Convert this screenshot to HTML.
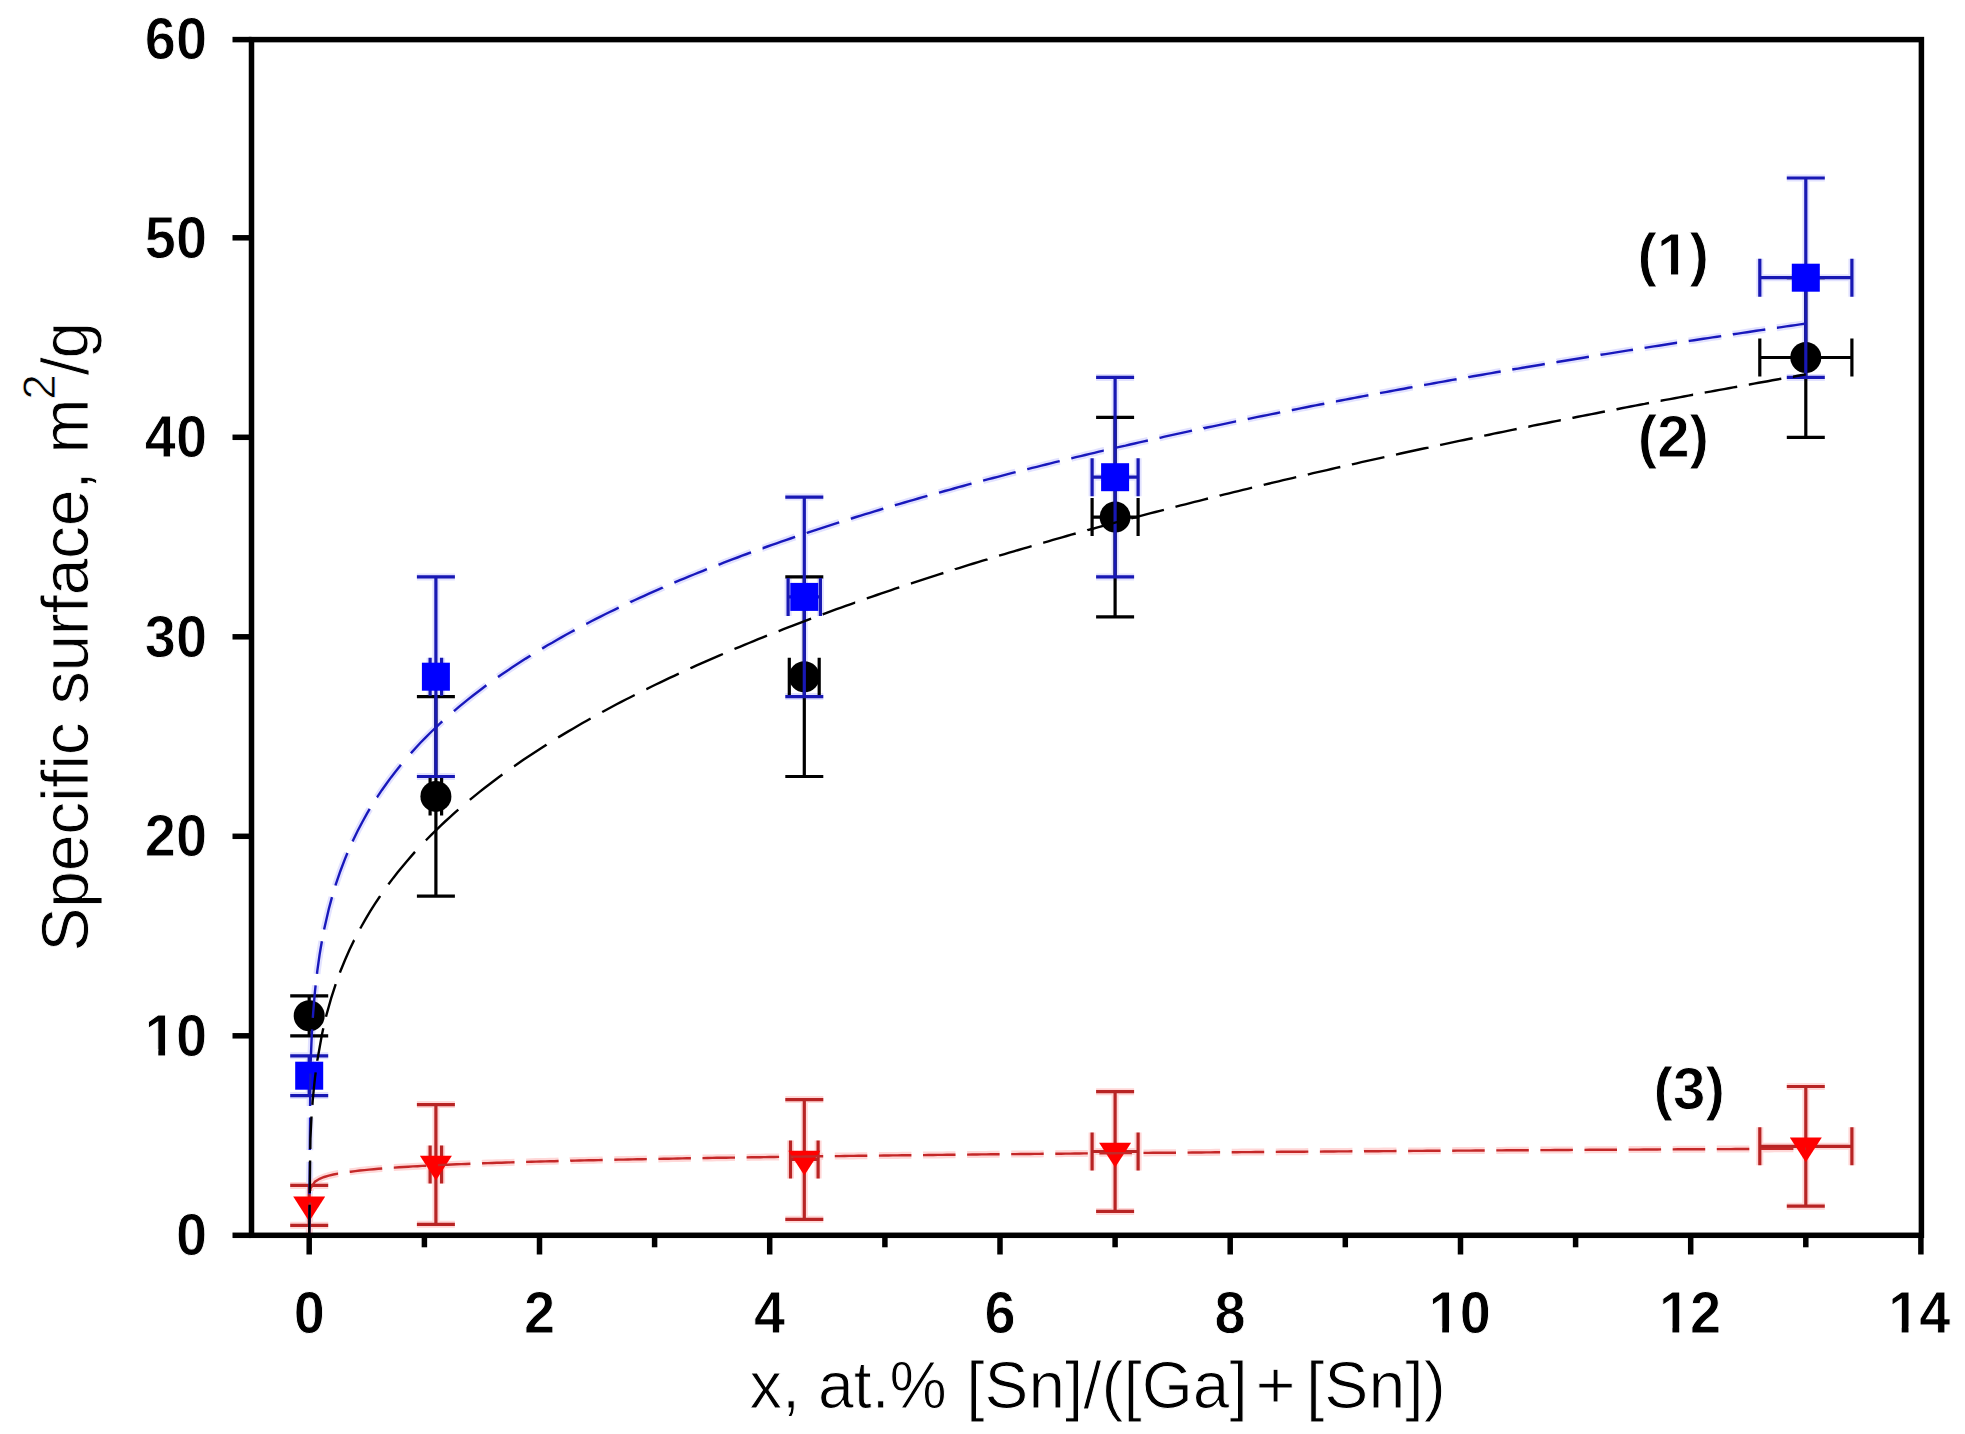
<!DOCTYPE html>
<html><head><meta charset="utf-8"><title>Specific surface vs x</title>
<style>html,body{margin:0;padding:0;background:#fff;overflow:hidden}svg{display:block}</style>
</head><body>
<svg width="1965" height="1434" viewBox="0 0 1965 1434"><g stroke="#e2e2ff" stroke-width="7" fill="none"><path d="M309.2 1055.8V1095.6 M290.2 1055.8H328.2 M290.2 1095.6H328.2" /><path d="M435.9 576.9V776.5 M416.9 576.9H454.9 M416.9 776.5H454.9" /><path d="M430.1 676.7H441.6 M430.1 657.7V695.7 M441.6 657.7V695.7" /><path d="M804.3 497.1V696.6 M785.3 497.1H823.3 M785.3 696.6H823.3" /><path d="M788.1 596.9H820.4 M788.1 577.9V615.9 M820.4 577.9V615.9" /><path d="M1115.1 377.4V576.9 M1096.1 377.4H1134.1 M1096.1 576.9H1134.1" /><path d="M1092.1 477.2H1138.1 M1092.1 458.2V496.2 M1138.1 458.2V496.2" /><path d="M1805.8 178V377.4 M1786.8 178H1824.8 M1786.8 377.4H1824.8" /><path d="M1759.8 277.7H1851.9 M1759.8 258.7V296.7 M1851.9 258.7V296.7" /></g>
<g stroke="#ffd8d8" stroke-width="7" fill="none"><path d="M309.2 1185.4V1225.3 M290.2 1185.4H328.2 M290.2 1225.3H328.2" /><path d="M435.9 1104.6V1224.3 M416.9 1104.6H454.9 M416.9 1224.3H454.9" /><path d="M430.1 1164.5H441.6 M430.1 1145.5V1183.5 M441.6 1145.5V1183.5" /><path d="M804.3 1099.6V1219.3 M785.3 1099.6H823.3 M785.3 1219.3H823.3" /><path d="M790.5 1159.5H818.1 M790.5 1140.5V1178.5 M818.1 1140.5V1178.5" /><path d="M1115.1 1091.7V1211.4 M1096.1 1091.7H1134.1 M1096.1 1211.4H1134.1" /><path d="M1092.1 1151.5H1138.1 M1092.1 1132.5V1170.5 M1138.1 1132.5V1170.5" /><path d="M1805.8 1086.5V1206.2 M1786.8 1086.5H1824.8 M1786.8 1206.2H1824.8" /><path d="M1759.8 1146.3H1851.9 M1759.8 1127.3V1165.3 M1851.9 1127.3V1165.3" /></g>
<path d="M309.2 1235.3L309.5 1205.8M309.5 1194.2L309.8 1161.8M309.8 1150.1L310.1 1117.6M310.1 1106.0L310.4 1073.5M310.7 1061.9L311.6 1038.7L312.1 1029.4M312.8 1017.8L313.9 1003.7L315.0 991.1L315.6 985.3M317.0 973.8L317.3 970.8L318.5 962.3L319.6 954.6L320.8 947.5L321.9 941.2M324.1 929.6L324.2 929.1L328.8 909.0L332.0 897.1M335.5 885.5L335.7 884.7L340.3 871.2L344.9 859.1L347.4 853.0M352.5 841.4L353.0 840.5L357.6 831.0L362.2 822.2L366.8 813.9L369.7 808.9M377.0 797.3L377.2 797.1L381.8 790.2L386.4 783.7L391.0 777.4L395.6 771.5L400.2 765.7L400.9 764.8M410.8 753.2L411.7 752.3L416.3 747.2L420.9 742.3L425.5 737.6L430.1 733.0L434.7 728.5L439.3 724.2L442.3 721.4M453.9 711.1L454.3 710.8L458.9 706.9L463.5 703.1L468.1 699.4L472.7 695.7L477.3 692.2L481.9 688.7L486.4 685.3M498.0 677.0L498.0 677.0L502.7 673.8L507.3 670.7L511.9 667.6L516.5 664.6L521.1 661.6L525.7 658.6L530.3 655.8L530.5 655.6M542.1 648.5L542.9 648.1L547.5 645.3L552.2 642.7L556.8 640.0L561.4 637.4L566.0 634.8L570.6 632.3L574.6 630.1M586.2 623.9L586.7 623.7L591.3 621.3L595.9 618.9L600.5 616.6L605.1 614.3L609.7 612.0L614.3 609.8L618.7 607.7M630.3 602.2L630.4 602.1L635.0 600.0L639.6 597.9L644.2 595.8L648.9 593.7L653.5 591.6L658.1 589.6L662.7 587.6L662.8 587.5M674.4 582.6L675.3 582.2L679.9 580.2L684.5 578.3L689.1 576.4L693.8 574.5L698.4 572.7L703.0 570.8L706.9 569.2M718.5 564.7L719.1 564.5L723.7 562.7L728.3 560.9L732.9 559.2L737.5 557.5L742.1 555.7L746.7 554.0L751.0 552.4M762.6 548.2L762.8 548.2L767.4 546.5L772.0 544.9L776.6 543.3L781.2 541.7L785.8 540.1L790.5 538.5L795.1 536.9L795.1 536.9M806.7 533.0L807.7 532.6L812.3 531.1L816.9 529.6L821.5 528.1L826.1 526.6L830.7 525.1L835.3 523.6L839.2 522.4M850.8 518.7L851.5 518.5L856.1 517.0L860.7 515.6L865.3 514.2L869.9 512.8L874.5 511.4L879.1 510.0L883.3 508.7M894.9 505.3L895.2 505.2L899.8 503.8L904.4 502.5L909.0 501.1L913.6 499.8L918.2 498.5L922.8 497.2L927.4 495.9M939.0 492.6L940.1 492.3L944.7 491.0L949.3 489.8L953.9 488.5L958.5 487.2L963.1 486.0L967.7 484.7L971.5 483.7M983.1 480.6L983.9 480.4L988.5 479.2L993.1 478.0L997.7 476.8L1002.3 475.6L1006.9 474.4L1011.5 473.2L1015.6 472.1M1027.2 469.2L1027.6 469.1L1032.2 467.9L1036.8 466.8L1041.4 465.6L1046.0 464.5L1050.6 463.3L1055.2 462.2L1059.7 461.1M1071.3 458.3L1071.3 458.3L1075.9 457.2L1080.6 456.1L1085.2 455.0L1089.8 453.9L1094.4 452.8L1099.0 451.7L1103.6 450.6L1103.8 450.6M1115.4 447.9L1116.2 447.7L1120.8 446.6L1125.5 445.6L1130.1 444.5L1134.7 443.5L1139.3 442.4L1143.9 441.4L1147.9 440.5M1159.5 437.9L1160.0 437.8L1164.6 436.7L1169.2 435.7L1173.8 434.7L1178.4 433.7L1183.0 432.7L1187.6 431.7L1192.0 430.7M1203.6 428.3L1203.7 428.2L1208.3 427.3L1212.9 426.3L1217.5 425.3L1222.2 424.3L1226.8 423.4L1231.4 422.4L1236.0 421.4L1236.1 421.4M1247.7 419.0L1248.6 418.8L1253.2 417.9L1257.8 416.9L1262.4 416.0L1267.0 415.1L1271.7 414.1L1276.3 413.2L1280.2 412.4M1291.8 410.1L1292.4 410.0L1297.0 409.1L1301.6 408.1L1306.2 407.2L1310.8 406.3L1315.4 405.4L1320.0 404.5L1324.3 403.7M1335.9 401.4L1336.1 401.4L1340.7 400.5L1345.3 399.6L1349.9 398.8L1354.5 397.9L1359.1 397.0L1363.7 396.1L1368.4 395.3L1368.4 395.3M1380.0 393.1L1381.0 392.9L1385.6 392.1L1390.2 391.2L1394.8 390.4L1399.4 389.5L1404.0 388.7L1408.6 387.8L1412.5 387.1M1424.1 385.0L1424.8 384.9L1429.4 384.1L1434.0 383.2L1438.6 382.4L1443.2 381.6L1447.8 380.8L1452.4 379.9L1456.6 379.2M1468.2 377.2L1468.5 377.1L1473.1 376.3L1477.7 375.5L1482.3 374.7L1486.9 373.9L1491.5 373.1L1496.1 372.3L1500.7 371.5M1512.3 369.5L1513.4 369.3L1518.0 368.6L1522.6 367.8L1527.2 367.0L1531.8 366.2L1536.4 365.5L1541.0 364.7L1544.8 364.0M1556.4 362.1L1557.2 362.0L1561.8 361.2L1566.4 360.5L1571.0 359.7L1575.6 359.0L1580.2 358.2L1584.8 357.5L1588.9 356.8M1600.5 354.9L1600.9 354.8L1605.5 354.1L1610.1 353.4L1614.7 352.6L1619.3 351.9L1623.9 351.1L1628.5 350.4L1633.0 349.7M1644.6 347.9L1644.6 347.9L1649.2 347.1L1653.9 346.4L1658.5 345.7L1663.1 345.0L1667.7 344.3L1672.3 343.5L1676.9 342.8L1677.1 342.8M1688.7 341.0L1689.5 340.9L1694.1 340.2L1698.7 339.5L1703.4 338.8L1708.0 338.1L1712.6 337.4L1717.2 336.7L1721.2 336.1M1732.8 334.3L1733.3 334.2L1737.9 333.6L1742.5 332.9L1747.1 332.2L1751.7 331.5L1756.3 330.8L1760.9 330.1L1765.3 329.5M1776.9 327.8L1777.0 327.8L1781.6 327.1L1786.2 326.4L1790.8 325.7L1795.4 325.1L1800.1 324.4L1804.7 323.7L1805.8 323.6" fill="none" stroke="#e2e2ff" stroke-width="7"/>
<path d="M309.3 1235.0L310.1 1202.5M310.3 1190.9L310.4 1188.5L315.0 1181.6L319.6 1178.8L324.2 1177.0L328.8 1175.6L333.4 1174.5L338.0 1173.6L338.1 1173.6M349.7 1171.8L350.7 1171.7L355.3 1171.1L359.9 1170.5L364.5 1170.1L369.1 1169.6L373.7 1169.2L378.3 1168.8L382.2 1168.5M393.8 1167.6L394.4 1167.6L399.0 1167.3L403.6 1167.0L408.3 1166.7L412.9 1166.4L417.5 1166.2L422.1 1165.9L426.3 1165.7M437.9 1165.1L438.2 1165.1L442.8 1164.9L447.4 1164.7L452.0 1164.5L456.6 1164.3L461.2 1164.1L465.8 1164.0L470.4 1163.8M482.0 1163.4L483.1 1163.3L487.7 1163.1L492.3 1163.0L496.9 1162.8L501.5 1162.7L506.1 1162.5L510.7 1162.4L514.5 1162.3M526.1 1161.9L526.8 1161.9L531.4 1161.8L536.0 1161.6L540.6 1161.5L545.2 1161.4L549.9 1161.3L554.5 1161.2L558.6 1161.0M570.2 1160.8L570.6 1160.7L575.2 1160.6L579.8 1160.5L584.4 1160.4L589.0 1160.3L593.6 1160.2L598.2 1160.1L602.7 1160.0M614.3 1159.7L614.3 1159.7L618.9 1159.6L623.5 1159.6L628.1 1159.5L632.7 1159.4L637.3 1159.3L641.9 1159.2L646.6 1159.1L646.8 1159.1M658.4 1158.9L659.2 1158.9L663.8 1158.8L668.4 1158.7L673.0 1158.6L677.6 1158.5L682.2 1158.4L686.8 1158.3L690.9 1158.3M702.5 1158.1L703.0 1158.1L707.6 1158.0L712.2 1157.9L716.8 1157.8L721.4 1157.8L726.0 1157.7L730.6 1157.6L735.0 1157.6M746.6 1157.4L746.7 1157.4L751.3 1157.3L755.9 1157.2L760.5 1157.2L765.1 1157.1L769.7 1157.0L774.3 1157.0L778.9 1156.9L779.1 1156.9M790.7 1156.7L791.6 1156.7L796.2 1156.6L800.8 1156.6L805.4 1156.5L810.0 1156.5L814.6 1156.4L819.2 1156.3L823.2 1156.3M834.8 1156.1L835.3 1156.1L840.0 1156.1L844.6 1156.0L849.2 1155.9L853.8 1155.9L858.4 1155.8L863.0 1155.8L867.3 1155.7M878.9 1155.6L879.1 1155.6L883.7 1155.5L888.3 1155.5L892.9 1155.4L897.5 1155.4L902.1 1155.3L906.7 1155.3L911.3 1155.2L911.4 1155.2M923.0 1155.1L924.0 1155.1L928.6 1155.0L933.2 1155.0L937.8 1154.9L942.4 1154.9L947.0 1154.8L951.6 1154.8L955.5 1154.7M967.1 1154.6L967.7 1154.6L972.3 1154.5L976.9 1154.5L981.6 1154.4L986.2 1154.4L990.8 1154.3L995.4 1154.3L999.6 1154.3M1011.2 1154.1L1011.5 1154.1L1016.1 1154.1L1020.7 1154.0L1025.3 1154.0L1029.9 1154.0L1034.5 1153.9L1039.1 1153.9L1043.7 1153.8M1055.3 1153.7L1056.4 1153.7L1061.0 1153.7L1065.6 1153.6L1070.2 1153.6L1074.8 1153.5L1079.4 1153.5L1084.0 1153.4L1087.8 1153.4M1099.4 1153.3L1100.1 1153.3L1104.7 1153.3L1109.3 1153.2L1113.9 1153.2L1118.5 1153.1L1123.1 1153.1L1127.8 1153.1L1131.9 1153.0M1143.5 1152.9L1143.9 1152.9L1148.5 1152.9L1153.1 1152.8L1157.7 1152.8L1162.3 1152.8L1166.9 1152.7L1171.5 1152.7L1176.0 1152.7M1187.6 1152.6L1187.6 1152.6L1192.2 1152.5L1196.8 1152.5L1201.4 1152.5L1206.0 1152.4L1210.6 1152.4L1215.2 1152.3L1219.8 1152.3L1220.1 1152.3M1231.7 1152.2L1232.5 1152.2L1237.1 1152.2L1241.7 1152.1L1246.3 1152.1L1250.9 1152.1L1255.5 1152.0L1260.1 1152.0L1264.2 1152.0M1275.8 1151.9L1276.3 1151.9L1280.9 1151.8L1285.5 1151.8L1290.1 1151.8L1294.7 1151.7L1299.3 1151.7L1303.9 1151.7L1308.3 1151.6M1319.9 1151.6L1320.0 1151.6L1324.6 1151.5L1329.2 1151.5L1333.8 1151.5L1338.4 1151.4L1343.0 1151.4L1347.6 1151.4L1352.2 1151.3L1352.4 1151.3M1364.0 1151.3L1364.9 1151.2L1369.5 1151.2L1374.1 1151.2L1378.7 1151.2L1383.3 1151.1L1387.9 1151.1L1392.5 1151.1L1396.5 1151.0M1408.1 1151.0L1408.6 1151.0L1413.3 1150.9L1417.9 1150.9L1422.5 1150.9L1427.1 1150.8L1431.7 1150.8L1436.3 1150.8L1440.6 1150.7M1452.2 1150.7L1452.4 1150.7L1457.0 1150.6L1461.6 1150.6L1466.2 1150.6L1470.8 1150.6L1475.4 1150.5L1480.0 1150.5L1484.6 1150.5L1484.7 1150.5M1496.3 1150.4L1497.3 1150.4L1501.9 1150.4L1506.5 1150.3L1511.1 1150.3L1515.7 1150.3L1520.3 1150.2L1524.9 1150.2L1528.8 1150.2M1540.4 1150.1L1541.0 1150.1L1545.6 1150.1L1550.2 1150.1L1554.8 1150.0L1559.5 1150.0L1564.1 1150.0L1568.7 1150.0L1572.9 1149.9M1584.5 1149.9L1584.8 1149.9L1589.4 1149.8L1594.0 1149.8L1598.6 1149.8L1603.2 1149.8L1607.8 1149.7L1612.4 1149.7L1617.0 1149.7M1628.6 1149.6L1629.7 1149.6L1634.3 1149.6L1638.9 1149.6L1643.5 1149.5L1648.1 1149.5L1652.7 1149.5L1657.3 1149.5L1661.1 1149.4M1672.7 1149.4L1673.4 1149.4L1678.0 1149.3L1682.6 1149.3L1687.2 1149.3L1691.8 1149.3L1696.4 1149.2L1701.1 1149.2L1705.2 1149.2M1716.8 1149.1L1717.2 1149.1L1721.8 1149.1L1726.4 1149.1L1731.0 1149.1L1735.6 1149.0L1740.2 1149.0L1744.8 1149.0L1749.3 1149.0M1760.9 1148.9L1760.9 1148.9L1765.5 1148.9L1770.1 1148.9L1774.7 1148.8L1779.3 1148.8L1783.9 1148.8L1788.5 1148.8L1793.1 1148.7L1793.4 1148.7M1805.0 1148.7L1805.8 1148.7" fill="none" stroke="#ffd8d8" stroke-width="7"/>
<g stroke="#000000" stroke-width="3.2" fill="none"><path d="M309.2 995.9V1035.8 M290.2 995.9H328.2 M290.2 1035.8H328.2" /><path d="M435.9 696.6V896.1 M416.9 696.6H454.9 M416.9 896.1H454.9" /><path d="M430.1 796.4H441.6 M430.1 777.4V815.4 M441.6 777.4V815.4" /><path d="M804.3 576.9V776.5 M785.3 576.9H823.3 M785.3 776.5H823.3" /><path d="M789.3 676.7H819.2 M789.3 657.7V695.7 M819.2 657.7V695.7" /><path d="M1115.1 417.4V616.9 M1096.1 417.4H1134.1 M1096.1 616.9H1134.1" /><path d="M1092.1 517.1H1138.1 M1092.1 498.1V536.1 M1138.1 498.1V536.1" /><path d="M1805.8 277.7V437.3 M1786.8 277.7H1824.8 M1786.8 437.3H1824.8" /><path d="M1759.8 357.5H1851.9 M1759.8 338.5V376.5 M1851.9 338.5V376.5" /></g>
<g fill="#000000"><circle cx="309.2" cy="1015.8" r="15.5"/><circle cx="435.9" cy="796.4" r="15.5"/><circle cx="804.3" cy="676.7" r="15.5"/><circle cx="1115.1" cy="517.1" r="15.5"/><circle cx="1805.8" cy="357.5" r="15.5"/></g>
<g stroke="#1818b4" stroke-width="3.2" fill="none"><path d="M309.2 1055.8V1095.6 M290.2 1055.8H328.2 M290.2 1095.6H328.2" /><path d="M435.9 576.9V776.5 M416.9 576.9H454.9 M416.9 776.5H454.9" /><path d="M430.1 676.7H441.6 M430.1 657.7V695.7 M441.6 657.7V695.7" /><path d="M804.3 497.1V696.6 M785.3 497.1H823.3 M785.3 696.6H823.3" /><path d="M788.1 596.9H820.4 M788.1 577.9V615.9 M820.4 577.9V615.9" /><path d="M1115.1 377.4V576.9 M1096.1 377.4H1134.1 M1096.1 576.9H1134.1" /><path d="M1092.1 477.2H1138.1 M1092.1 458.2V496.2 M1138.1 458.2V496.2" /><path d="M1805.8 178V377.4 M1786.8 178H1824.8 M1786.8 377.4H1824.8" /><path d="M1759.8 277.7H1851.9 M1759.8 258.7V296.7 M1851.9 258.7V296.7" /></g>
<g fill="#0000ff"><rect x="295.2" y="1061.7" width="28" height="28"/><rect x="421.9" y="662.7" width="28" height="28"/><rect x="790.3" y="582.9" width="28" height="28"/><rect x="1101.1" y="463.2" width="28" height="28"/><rect x="1791.8" y="263.7" width="28" height="28"/></g>
<g stroke="#b82424" stroke-width="3.2" fill="none"><path d="M309.2 1185.4V1225.3 M290.2 1185.4H328.2 M290.2 1225.3H328.2" /><path d="M435.9 1104.6V1224.3 M416.9 1104.6H454.9 M416.9 1224.3H454.9" /><path d="M430.1 1164.5H441.6 M430.1 1145.5V1183.5 M441.6 1145.5V1183.5" /><path d="M804.3 1099.6V1219.3 M785.3 1099.6H823.3 M785.3 1219.3H823.3" /><path d="M790.5 1159.5H818.1 M790.5 1140.5V1178.5 M818.1 1140.5V1178.5" /><path d="M1115.1 1091.7V1211.4 M1096.1 1091.7H1134.1 M1096.1 1211.4H1134.1" /><path d="M1092.1 1151.5H1138.1 M1092.1 1132.5V1170.5 M1138.1 1132.5V1170.5" /><path d="M1805.8 1086.5V1206.2 M1786.8 1086.5H1824.8 M1786.8 1206.2H1824.8" /><path d="M1759.8 1146.3H1851.9 M1759.8 1127.3V1165.3 M1851.9 1127.3V1165.3" /></g>
<g fill="#ff0000"><path d="M293.2 1196.6L325.2 1196.6L309.2 1221.4Z"/><path d="M419.9 1155.7L451.9 1155.7L435.9 1180.5Z"/><path d="M788.3 1150.7L820.3 1150.7L804.3 1175.5Z"/><path d="M1099.1 1142.7L1131.1 1142.7L1115.1 1167.5Z"/><path d="M1789.8 1137.5L1821.8 1137.5L1805.8 1162.3Z"/></g>
<path d="M309.3 1235.0L310.1 1202.5M310.3 1190.9L310.4 1188.5L315.0 1181.6L319.6 1178.8L324.2 1177.0L328.8 1175.6L333.4 1174.5L338.0 1173.6L338.1 1173.6M349.7 1171.8L350.7 1171.7L355.3 1171.1L359.9 1170.5L364.5 1170.1L369.1 1169.6L373.7 1169.2L378.3 1168.8L382.2 1168.5M393.8 1167.6L394.4 1167.6L399.0 1167.3L403.6 1167.0L408.3 1166.7L412.9 1166.4L417.5 1166.2L422.1 1165.9L426.3 1165.7M437.9 1165.1L438.2 1165.1L442.8 1164.9L447.4 1164.7L452.0 1164.5L456.6 1164.3L461.2 1164.1L465.8 1164.0L470.4 1163.8M482.0 1163.4L483.1 1163.3L487.7 1163.1L492.3 1163.0L496.9 1162.8L501.5 1162.7L506.1 1162.5L510.7 1162.4L514.5 1162.3M526.1 1161.9L526.8 1161.9L531.4 1161.8L536.0 1161.6L540.6 1161.5L545.2 1161.4L549.9 1161.3L554.5 1161.2L558.6 1161.0M570.2 1160.8L570.6 1160.7L575.2 1160.6L579.8 1160.5L584.4 1160.4L589.0 1160.3L593.6 1160.2L598.2 1160.1L602.7 1160.0M614.3 1159.7L614.3 1159.7L618.9 1159.6L623.5 1159.6L628.1 1159.5L632.7 1159.4L637.3 1159.3L641.9 1159.2L646.6 1159.1L646.8 1159.1M658.4 1158.9L659.2 1158.9L663.8 1158.8L668.4 1158.7L673.0 1158.6L677.6 1158.5L682.2 1158.4L686.8 1158.3L690.9 1158.3M702.5 1158.1L703.0 1158.1L707.6 1158.0L712.2 1157.9L716.8 1157.8L721.4 1157.8L726.0 1157.7L730.6 1157.6L735.0 1157.6M746.6 1157.4L746.7 1157.4L751.3 1157.3L755.9 1157.2L760.5 1157.2L765.1 1157.1L769.7 1157.0L774.3 1157.0L778.9 1156.9L779.1 1156.9M790.7 1156.7L791.6 1156.7L796.2 1156.6L800.8 1156.6L805.4 1156.5L810.0 1156.5L814.6 1156.4L819.2 1156.3L823.2 1156.3M834.8 1156.1L835.3 1156.1L840.0 1156.1L844.6 1156.0L849.2 1155.9L853.8 1155.9L858.4 1155.8L863.0 1155.8L867.3 1155.7M878.9 1155.6L879.1 1155.6L883.7 1155.5L888.3 1155.5L892.9 1155.4L897.5 1155.4L902.1 1155.3L906.7 1155.3L911.3 1155.2L911.4 1155.2M923.0 1155.1L924.0 1155.1L928.6 1155.0L933.2 1155.0L937.8 1154.9L942.4 1154.9L947.0 1154.8L951.6 1154.8L955.5 1154.7M967.1 1154.6L967.7 1154.6L972.3 1154.5L976.9 1154.5L981.6 1154.4L986.2 1154.4L990.8 1154.3L995.4 1154.3L999.6 1154.3M1011.2 1154.1L1011.5 1154.1L1016.1 1154.1L1020.7 1154.0L1025.3 1154.0L1029.9 1154.0L1034.5 1153.9L1039.1 1153.9L1043.7 1153.8M1055.3 1153.7L1056.4 1153.7L1061.0 1153.7L1065.6 1153.6L1070.2 1153.6L1074.8 1153.5L1079.4 1153.5L1084.0 1153.4L1087.8 1153.4M1099.4 1153.3L1100.1 1153.3L1104.7 1153.3L1109.3 1153.2L1113.9 1153.2L1118.5 1153.1L1123.1 1153.1L1127.8 1153.1L1131.9 1153.0M1143.5 1152.9L1143.9 1152.9L1148.5 1152.9L1153.1 1152.8L1157.7 1152.8L1162.3 1152.8L1166.9 1152.7L1171.5 1152.7L1176.0 1152.7M1187.6 1152.6L1187.6 1152.6L1192.2 1152.5L1196.8 1152.5L1201.4 1152.5L1206.0 1152.4L1210.6 1152.4L1215.2 1152.3L1219.8 1152.3L1220.1 1152.3M1231.7 1152.2L1232.5 1152.2L1237.1 1152.2L1241.7 1152.1L1246.3 1152.1L1250.9 1152.1L1255.5 1152.0L1260.1 1152.0L1264.2 1152.0M1275.8 1151.9L1276.3 1151.9L1280.9 1151.8L1285.5 1151.8L1290.1 1151.8L1294.7 1151.7L1299.3 1151.7L1303.9 1151.7L1308.3 1151.6M1319.9 1151.6L1320.0 1151.6L1324.6 1151.5L1329.2 1151.5L1333.8 1151.5L1338.4 1151.4L1343.0 1151.4L1347.6 1151.4L1352.2 1151.3L1352.4 1151.3M1364.0 1151.3L1364.9 1151.2L1369.5 1151.2L1374.1 1151.2L1378.7 1151.2L1383.3 1151.1L1387.9 1151.1L1392.5 1151.1L1396.5 1151.0M1408.1 1151.0L1408.6 1151.0L1413.3 1150.9L1417.9 1150.9L1422.5 1150.9L1427.1 1150.8L1431.7 1150.8L1436.3 1150.8L1440.6 1150.7M1452.2 1150.7L1452.4 1150.7L1457.0 1150.6L1461.6 1150.6L1466.2 1150.6L1470.8 1150.6L1475.4 1150.5L1480.0 1150.5L1484.6 1150.5L1484.7 1150.5M1496.3 1150.4L1497.3 1150.4L1501.9 1150.4L1506.5 1150.3L1511.1 1150.3L1515.7 1150.3L1520.3 1150.2L1524.9 1150.2L1528.8 1150.2M1540.4 1150.1L1541.0 1150.1L1545.6 1150.1L1550.2 1150.1L1554.8 1150.0L1559.5 1150.0L1564.1 1150.0L1568.7 1150.0L1572.9 1149.9M1584.5 1149.9L1584.8 1149.9L1589.4 1149.8L1594.0 1149.8L1598.6 1149.8L1603.2 1149.8L1607.8 1149.7L1612.4 1149.7L1617.0 1149.7M1628.6 1149.6L1629.7 1149.6L1634.3 1149.6L1638.9 1149.6L1643.5 1149.5L1648.1 1149.5L1652.7 1149.5L1657.3 1149.5L1661.1 1149.4M1672.7 1149.4L1673.4 1149.4L1678.0 1149.3L1682.6 1149.3L1687.2 1149.3L1691.8 1149.3L1696.4 1149.2L1701.1 1149.2L1705.2 1149.2M1716.8 1149.1L1717.2 1149.1L1721.8 1149.1L1726.4 1149.1L1731.0 1149.1L1735.6 1149.0L1740.2 1149.0L1744.8 1149.0L1749.3 1149.0M1760.9 1148.9L1760.9 1148.9L1765.5 1148.9L1770.1 1148.9L1774.7 1148.8L1779.3 1148.8L1783.9 1148.8L1788.5 1148.8L1793.1 1148.7L1793.4 1148.7M1805.0 1148.7L1805.8 1148.7" fill="none" stroke="#c42828" stroke-width="2.4"/>
<path d="M309.2 1235.3L309.5 1205.8M309.5 1194.2L309.8 1161.8M309.8 1150.1L310.1 1117.6M310.1 1106.0L310.4 1073.5M310.7 1061.9L311.6 1038.7L312.1 1029.4M312.8 1017.8L313.9 1003.7L315.0 991.1L315.6 985.3M317.0 973.8L317.3 970.8L318.5 962.3L319.6 954.6L320.8 947.5L321.9 941.2M324.1 929.6L324.2 929.1L328.8 909.0L332.0 897.1M335.5 885.5L335.7 884.7L340.3 871.2L344.9 859.1L347.4 853.0M352.5 841.4L353.0 840.5L357.6 831.0L362.2 822.2L366.8 813.9L369.7 808.9M377.0 797.3L377.2 797.1L381.8 790.2L386.4 783.7L391.0 777.4L395.6 771.5L400.2 765.7L400.9 764.8M410.8 753.2L411.7 752.3L416.3 747.2L420.9 742.3L425.5 737.6L430.1 733.0L434.7 728.5L439.3 724.2L442.3 721.4M453.9 711.1L454.3 710.8L458.9 706.9L463.5 703.1L468.1 699.4L472.7 695.7L477.3 692.2L481.9 688.7L486.4 685.3M498.0 677.0L498.0 677.0L502.7 673.8L507.3 670.7L511.9 667.6L516.5 664.6L521.1 661.6L525.7 658.6L530.3 655.8L530.5 655.6M542.1 648.5L542.9 648.1L547.5 645.3L552.2 642.7L556.8 640.0L561.4 637.4L566.0 634.8L570.6 632.3L574.6 630.1M586.2 623.9L586.7 623.7L591.3 621.3L595.9 618.9L600.5 616.6L605.1 614.3L609.7 612.0L614.3 609.8L618.7 607.7M630.3 602.2L630.4 602.1L635.0 600.0L639.6 597.9L644.2 595.8L648.9 593.7L653.5 591.6L658.1 589.6L662.7 587.6L662.8 587.5M674.4 582.6L675.3 582.2L679.9 580.2L684.5 578.3L689.1 576.4L693.8 574.5L698.4 572.7L703.0 570.8L706.9 569.2M718.5 564.7L719.1 564.5L723.7 562.7L728.3 560.9L732.9 559.2L737.5 557.5L742.1 555.7L746.7 554.0L751.0 552.4M762.6 548.2L762.8 548.2L767.4 546.5L772.0 544.9L776.6 543.3L781.2 541.7L785.8 540.1L790.5 538.5L795.1 536.9L795.1 536.9M806.7 533.0L807.7 532.6L812.3 531.1L816.9 529.6L821.5 528.1L826.1 526.6L830.7 525.1L835.3 523.6L839.2 522.4M850.8 518.7L851.5 518.5L856.1 517.0L860.7 515.6L865.3 514.2L869.9 512.8L874.5 511.4L879.1 510.0L883.3 508.7M894.9 505.3L895.2 505.2L899.8 503.8L904.4 502.5L909.0 501.1L913.6 499.8L918.2 498.5L922.8 497.2L927.4 495.9M939.0 492.6L940.1 492.3L944.7 491.0L949.3 489.8L953.9 488.5L958.5 487.2L963.1 486.0L967.7 484.7L971.5 483.7M983.1 480.6L983.9 480.4L988.5 479.2L993.1 478.0L997.7 476.8L1002.3 475.6L1006.9 474.4L1011.5 473.2L1015.6 472.1M1027.2 469.2L1027.6 469.1L1032.2 467.9L1036.8 466.8L1041.4 465.6L1046.0 464.5L1050.6 463.3L1055.2 462.2L1059.7 461.1M1071.3 458.3L1071.3 458.3L1075.9 457.2L1080.6 456.1L1085.2 455.0L1089.8 453.9L1094.4 452.8L1099.0 451.7L1103.6 450.6L1103.8 450.6M1115.4 447.9L1116.2 447.7L1120.8 446.6L1125.5 445.6L1130.1 444.5L1134.7 443.5L1139.3 442.4L1143.9 441.4L1147.9 440.5M1159.5 437.9L1160.0 437.8L1164.6 436.7L1169.2 435.7L1173.8 434.7L1178.4 433.7L1183.0 432.7L1187.6 431.7L1192.0 430.7M1203.6 428.3L1203.7 428.2L1208.3 427.3L1212.9 426.3L1217.5 425.3L1222.2 424.3L1226.8 423.4L1231.4 422.4L1236.0 421.4L1236.1 421.4M1247.7 419.0L1248.6 418.8L1253.2 417.9L1257.8 416.9L1262.4 416.0L1267.0 415.1L1271.7 414.1L1276.3 413.2L1280.2 412.4M1291.8 410.1L1292.4 410.0L1297.0 409.1L1301.6 408.1L1306.2 407.2L1310.8 406.3L1315.4 405.4L1320.0 404.5L1324.3 403.7M1335.9 401.4L1336.1 401.4L1340.7 400.5L1345.3 399.6L1349.9 398.8L1354.5 397.9L1359.1 397.0L1363.7 396.1L1368.4 395.3L1368.4 395.3M1380.0 393.1L1381.0 392.9L1385.6 392.1L1390.2 391.2L1394.8 390.4L1399.4 389.5L1404.0 388.7L1408.6 387.8L1412.5 387.1M1424.1 385.0L1424.8 384.9L1429.4 384.1L1434.0 383.2L1438.6 382.4L1443.2 381.6L1447.8 380.8L1452.4 379.9L1456.6 379.2M1468.2 377.2L1468.5 377.1L1473.1 376.3L1477.7 375.5L1482.3 374.7L1486.9 373.9L1491.5 373.1L1496.1 372.3L1500.7 371.5M1512.3 369.5L1513.4 369.3L1518.0 368.6L1522.6 367.8L1527.2 367.0L1531.8 366.2L1536.4 365.5L1541.0 364.7L1544.8 364.0M1556.4 362.1L1557.2 362.0L1561.8 361.2L1566.4 360.5L1571.0 359.7L1575.6 359.0L1580.2 358.2L1584.8 357.5L1588.9 356.8M1600.5 354.9L1600.9 354.8L1605.5 354.1L1610.1 353.4L1614.7 352.6L1619.3 351.9L1623.9 351.1L1628.5 350.4L1633.0 349.7M1644.6 347.9L1644.6 347.9L1649.2 347.1L1653.9 346.4L1658.5 345.7L1663.1 345.0L1667.7 344.3L1672.3 343.5L1676.9 342.8L1677.1 342.8M1688.7 341.0L1689.5 340.9L1694.1 340.2L1698.7 339.5L1703.4 338.8L1708.0 338.1L1712.6 337.4L1717.2 336.7L1721.2 336.1M1732.8 334.3L1733.3 334.2L1737.9 333.6L1742.5 332.9L1747.1 332.2L1751.7 331.5L1756.3 330.8L1760.9 330.1L1765.3 329.5M1776.9 327.8L1777.0 327.8L1781.6 327.1L1786.2 326.4L1790.8 325.7L1795.4 325.1L1800.1 324.4L1804.7 323.7L1805.8 323.6" fill="none" stroke="#1818bc" stroke-width="2.4"/>
<path d="M309.2 1235.3L309.6 1204.7M309.8 1193.1L310.1 1160.6M310.3 1149.0L310.4 1138.9L311.5 1116.5M312.4 1104.9L312.7 1100.4L313.9 1088.0L315.0 1077.7L315.7 1072.4M317.3 1060.8L317.3 1060.6L321.9 1034.8L323.3 1028.3M326.0 1016.7L326.5 1014.8L331.1 998.4L335.7 984.2M339.9 972.6L340.3 971.5L344.9 960.2L349.5 949.8L354.1 940.2L354.2 940.1M360.2 928.5L361.1 927.0L365.7 918.9L370.3 911.2L374.9 903.9L379.5 897.0L380.1 896.0M388.4 884.4L388.7 884.0L393.3 877.9L397.9 872.1L402.5 866.4L407.1 860.9L411.7 855.6L415.0 851.9M425.9 840.3L426.7 839.5L431.3 834.8L435.9 830.3L440.5 825.8L445.1 821.5L449.7 817.3L454.3 813.1L458.3 809.6M469.9 799.8L470.4 799.3L475.0 795.6L479.6 791.9L484.2 788.2L488.8 784.7L493.4 781.2L498.0 777.7L502.4 774.6M514.0 766.3L514.2 766.2L518.8 763.0L523.4 759.8L528.0 756.7L532.6 753.7L537.2 750.7L541.8 747.7L546.4 744.8L546.5 744.7M558.1 737.5L559.1 736.9L563.7 734.1L568.3 731.4L572.9 728.7L577.5 726.0L582.1 723.3L586.7 720.7L590.6 718.5M602.2 712.1L602.8 711.7L607.4 709.2L612.0 706.8L616.6 704.3L621.2 701.9L625.8 699.5L630.4 697.2L634.7 695.0M646.3 689.2L646.6 689.1L651.2 686.8L655.8 684.5L660.4 682.3L665.0 680.1L669.6 677.9L674.2 675.8L678.8 673.6M690.4 668.3L691.4 667.8L696.1 665.7L700.7 663.7L705.3 661.6L709.9 659.6L714.5 657.6L719.1 655.6L722.9 654.0M734.5 649.0L735.2 648.7L739.8 646.8L744.4 644.9L749.0 643.0L753.6 641.1L758.2 639.2L762.8 637.4L767.0 635.7M778.6 631.1L778.9 631.0L783.5 629.2L788.1 627.4L792.8 625.6L797.4 623.8L802.0 622.1L806.6 620.3L811.1 618.6M822.7 614.3L822.7 614.3L827.3 612.6L831.9 610.9L836.5 609.2L841.1 607.6L845.7 605.9L850.3 604.3L854.9 602.6L855.2 602.6M866.8 598.5L867.6 598.2L872.2 596.6L876.8 595.0L881.4 593.4L886.0 591.9L890.6 590.3L895.2 588.7L899.3 587.4M910.9 583.5L911.3 583.4L915.9 581.8L920.5 580.3L925.1 578.8L929.7 577.3L934.4 575.8L939.0 574.4L943.4 573.0M955.0 569.3L955.1 569.2L959.7 567.8L964.3 566.4L968.9 564.9L973.5 563.5L978.1 562.1L982.7 560.7L987.3 559.3L987.5 559.2M999.1 555.7L1000.0 555.4L1004.6 554.1L1009.2 552.7L1013.8 551.3L1018.4 550.0L1023.0 548.6L1027.6 547.3L1031.6 546.1M1043.2 542.7L1043.7 542.6L1048.3 541.3L1052.9 539.9L1057.5 538.6L1062.1 537.3L1066.7 536.0L1071.3 534.7L1075.7 533.5M1087.3 530.3L1087.5 530.2L1092.1 529.0L1096.7 527.7L1101.3 526.4L1105.9 525.2L1110.5 523.9L1115.1 522.7L1119.7 521.4L1119.8 521.4M1131.4 518.3L1132.4 518.1L1137.0 516.8L1141.6 515.6L1146.2 514.4L1150.8 513.2L1155.4 512.0L1160.0 510.8L1163.9 509.8M1175.5 506.8L1176.1 506.6L1180.7 505.4L1185.3 504.3L1189.9 503.1L1194.5 501.9L1199.1 500.8L1203.7 499.6L1208.0 498.5M1219.6 495.7L1219.8 495.6L1224.5 494.4L1229.1 493.3L1233.7 492.2L1238.3 491.1L1242.9 489.9L1247.5 488.8L1252.1 487.7M1263.7 484.9L1264.7 484.6L1269.4 483.5L1274.0 482.4L1278.6 481.3L1283.2 480.2L1287.8 479.2L1292.4 478.1L1296.2 477.2M1307.8 474.5L1308.5 474.3L1313.1 473.2L1317.7 472.2L1322.3 471.1L1326.9 470.1L1331.5 469.0L1336.1 467.9L1340.3 467.0M1351.9 464.4L1352.2 464.3L1356.8 463.3L1361.4 462.2L1366.1 461.2L1370.7 460.2L1375.3 459.1L1379.9 458.1L1384.4 457.1M1396.0 454.6L1396.0 454.6L1400.6 453.5L1405.2 452.5L1409.8 451.5L1414.4 450.5L1419.0 449.5L1423.6 448.5L1428.2 447.6L1428.5 447.5M1440.1 445.0L1440.9 444.8L1445.5 443.9L1450.1 442.9L1454.7 441.9L1459.3 440.9L1463.9 440.0L1468.5 439.0L1472.6 438.2M1484.2 435.7L1484.6 435.6L1489.2 434.7L1493.8 433.7L1498.4 432.8L1503.0 431.8L1507.6 430.9L1512.3 429.9L1516.7 429.0M1528.3 426.7L1528.4 426.7L1533.0 425.7L1537.6 424.8L1542.2 423.9L1546.8 423.0L1551.4 422.0L1556.0 421.1L1560.6 420.2L1560.8 420.2M1572.4 417.9L1573.3 417.7L1577.9 416.8L1582.5 415.9L1587.1 415.0L1591.7 414.1L1596.3 413.2L1600.9 412.3L1604.9 411.5M1616.5 409.3L1617.0 409.2L1621.6 408.3L1626.2 407.4L1630.8 406.5L1635.4 405.6L1640.0 404.7L1644.6 403.9L1649.0 403.0M1660.6 400.8L1660.8 400.8L1665.4 399.9L1670.0 399.1L1674.6 398.2L1679.2 397.4L1683.8 396.5L1688.4 395.6L1693.0 394.8L1693.1 394.8M1704.7 392.6L1705.7 392.4L1710.3 391.6L1714.9 390.8L1719.5 389.9L1724.1 389.1L1728.7 388.2L1733.3 387.4L1737.2 386.7M1748.8 384.6L1749.4 384.5L1754.0 383.6L1758.6 382.8L1763.2 382.0L1767.8 381.2L1772.4 380.3L1777.0 379.5L1781.3 378.8M1792.9 376.7L1793.1 376.7L1797.8 375.8L1802.4 375.0L1805.8 374.4" fill="none" stroke="#000000" stroke-width="2.4"/>
<rect x="251.5" y="39.6" width="1669.9" height="1195.7" fill="none" stroke="#000" stroke-width="5.5"/><path d="M232.5 1235.3H251.5" stroke="#000" stroke-width="5.5"/><path d="M232.5 1035.8H251.5" stroke="#000" stroke-width="5.5"/><path d="M232.5 836.3H251.5" stroke="#000" stroke-width="5.5"/><path d="M232.5 636.8H251.5" stroke="#000" stroke-width="5.5"/><path d="M232.5 437.3H251.5" stroke="#000" stroke-width="5.5"/><path d="M232.5 237.8H251.5" stroke="#000" stroke-width="5.5"/><path d="M232.5 39.6H251.5" stroke="#000" stroke-width="5.5"/><path d="M309.2 1235.3V1254.5" stroke="#000" stroke-width="5.5"/><path d="M424.4 1235.3V1247.3" stroke="#000" stroke-width="5.5"/><path d="M539.5 1235.3V1254.5" stroke="#000" stroke-width="5.5"/><path d="M654.6 1235.3V1247.3" stroke="#000" stroke-width="5.5"/><path d="M769.7 1235.3V1254.5" stroke="#000" stroke-width="5.5"/><path d="M884.9 1235.3V1247.3" stroke="#000" stroke-width="5.5"/><path d="M1000 1235.3V1254.5" stroke="#000" stroke-width="5.5"/><path d="M1115.1 1235.3V1247.3" stroke="#000" stroke-width="5.5"/><path d="M1230.2 1235.3V1254.5" stroke="#000" stroke-width="5.5"/><path d="M1345.3 1235.3V1247.3" stroke="#000" stroke-width="5.5"/><path d="M1460.5 1235.3V1254.5" stroke="#000" stroke-width="5.5"/><path d="M1575.6 1235.3V1247.3" stroke="#000" stroke-width="5.5"/><path d="M1690.7 1235.3V1254.5" stroke="#000" stroke-width="5.5"/><path d="M1805.8 1235.3V1247.3" stroke="#000" stroke-width="5.5"/><path d="M1920.9 1235.3V1254.5" stroke="#000" stroke-width="5.5"/>
<text x="175.92" y="1255.05" font-family="Liberation Sans, Arial, sans-serif" font-weight="bold" stroke="#fff" stroke-width="0.9" font-size="58.3" textLength="31.13" lengthAdjust="spacingAndGlyphs">0</text>
<text x="144.79" y="1055.55" font-family="Liberation Sans, Arial, sans-serif" font-weight="bold" stroke="#fff" stroke-width="0.9" font-size="58.3" textLength="62.25" lengthAdjust="spacingAndGlyphs">10</text>
<text x="144.79" y="856.05" font-family="Liberation Sans, Arial, sans-serif" font-weight="bold" stroke="#fff" stroke-width="0.9" font-size="58.3" textLength="62.25" lengthAdjust="spacingAndGlyphs">20</text>
<text x="144.79" y="656.55" font-family="Liberation Sans, Arial, sans-serif" font-weight="bold" stroke="#fff" stroke-width="0.9" font-size="58.3" textLength="62.25" lengthAdjust="spacingAndGlyphs">30</text>
<text x="144.79" y="457.05" font-family="Liberation Sans, Arial, sans-serif" font-weight="bold" stroke="#fff" stroke-width="0.9" font-size="58.3" textLength="62.25" lengthAdjust="spacingAndGlyphs">40</text>
<text x="144.79" y="257.55" font-family="Liberation Sans, Arial, sans-serif" font-weight="bold" stroke="#fff" stroke-width="0.9" font-size="58.3" textLength="62.25" lengthAdjust="spacingAndGlyphs">50</text>
<text x="144.79" y="59.35" font-family="Liberation Sans, Arial, sans-serif" font-weight="bold" stroke="#fff" stroke-width="0.9" font-size="58.3" textLength="62.25" lengthAdjust="spacingAndGlyphs">60</text>
<text x="293.73" y="1332.95" font-family="Liberation Sans, Arial, sans-serif" font-weight="bold" stroke="#fff" stroke-width="0.9" font-size="58.3" textLength="31.13" lengthAdjust="spacingAndGlyphs">0</text>
<text x="524.08" y="1332.95" font-family="Liberation Sans, Arial, sans-serif" font-weight="bold" stroke="#fff" stroke-width="0.9" font-size="58.3" textLength="31.13" lengthAdjust="spacingAndGlyphs">2</text>
<text x="753.89" y="1332.95" font-family="Liberation Sans, Arial, sans-serif" font-weight="bold" stroke="#fff" stroke-width="0.9" font-size="58.3" textLength="31.13" lengthAdjust="spacingAndGlyphs">4</text>
<text x="984.39" y="1332.95" font-family="Liberation Sans, Arial, sans-serif" font-weight="bold" stroke="#fff" stroke-width="0.9" font-size="58.3" textLength="31.13" lengthAdjust="spacingAndGlyphs">6</text>
<text x="1214.62" y="1332.95" font-family="Liberation Sans, Arial, sans-serif" font-weight="bold" stroke="#fff" stroke-width="0.9" font-size="58.3" textLength="31.13" lengthAdjust="spacingAndGlyphs">8</text>
<text x="1428.71" y="1332.95" font-family="Liberation Sans, Arial, sans-serif" font-weight="bold" stroke="#fff" stroke-width="0.9" font-size="58.3" textLength="62.25" lengthAdjust="spacingAndGlyphs">10</text>
<text x="1658.92" y="1332.95" font-family="Liberation Sans, Arial, sans-serif" font-weight="bold" stroke="#fff" stroke-width="0.9" font-size="58.3" textLength="62.25" lengthAdjust="spacingAndGlyphs">12</text>
<text x="1888.19" y="1332.95" font-family="Liberation Sans, Arial, sans-serif" font-weight="bold" stroke="#fff" stroke-width="0.9" font-size="58.3" textLength="62.25" lengthAdjust="spacingAndGlyphs">14</text>
<text x="1637.55" y="274.85" font-family="Liberation Sans, Arial, sans-serif" font-weight="bold" stroke="#fff" stroke-width="0.9" font-size="58.3" textLength="71.25" lengthAdjust="spacingAndGlyphs">(1)</text>
<text x="1637.75" y="457.25" font-family="Liberation Sans, Arial, sans-serif" font-weight="bold" stroke="#fff" stroke-width="0.9" font-size="58.3" textLength="71.25" lengthAdjust="spacingAndGlyphs">(2)</text>
<text x="1653.55" y="1108.85" font-family="Liberation Sans, Arial, sans-serif" font-weight="bold" stroke="#fff" stroke-width="0.9" font-size="58.3" textLength="71.25" lengthAdjust="spacingAndGlyphs">(3)</text>
<g fill="#fff"><rect x="147.12" y="1049.30" width="11.19" height="7.45"/><rect x="165.08" y="1049.30" width="10.48" height="7.45"/><rect x="1431.03" y="1326.70" width="11.19" height="7.45"/><rect x="1449.00" y="1326.70" width="10.48" height="7.45"/><rect x="1661.25" y="1326.70" width="11.19" height="7.45"/><rect x="1679.21" y="1326.70" width="10.48" height="7.45"/><rect x="1890.52" y="1326.70" width="11.19" height="7.45"/><rect x="1908.48" y="1326.70" width="10.48" height="7.45"/><rect x="1659.43" y="268.60" width="11.58" height="7.45"/><rect x="1678.12" y="268.60" width="10.84" height="7.45"/></g>
<text x="749.47" y="1407.50" font-family="Liberation Sans, Arial, sans-serif" stroke="#fff" stroke-width="1.0" font-size="66" textLength="50.57" lengthAdjust="spacingAndGlyphs">x,</text>
<text x="817.96" y="1407.50" font-family="Liberation Sans, Arial, sans-serif" stroke="#fff" stroke-width="1.0" font-size="66" textLength="128.83" lengthAdjust="spacingAndGlyphs">at.%</text>
<text x="966.31" y="1407.50" font-family="Liberation Sans, Arial, sans-serif" stroke="#fff" stroke-width="1.0" font-size="66" textLength="281.37" lengthAdjust="spacingAndGlyphs">[Sn]/([Ga]</text>
<text x="1255.54" y="1407.50" font-family="Liberation Sans, Arial, sans-serif" stroke="#fff" stroke-width="1.0" font-size="66" textLength="40.15" lengthAdjust="spacingAndGlyphs">+</text>
<text x="1305.88" y="1407.50" font-family="Liberation Sans, Arial, sans-serif" stroke="#fff" stroke-width="1.0" font-size="66" textLength="139.83" lengthAdjust="spacingAndGlyphs">[Sn])</text>
<g transform="translate(88.4 0) rotate(-90) scale(1.0 1)"><text x="-951.50" y="0.00" font-family="Liberation Sans, Arial, sans-serif" stroke="#fff" stroke-width="0.8" style="font-kerning:none" font-size="66" letter-spacing="-0.254">Specific surface, m</text><text x="-399.81" y="-33.10" font-family="Liberation Sans, Arial, sans-serif" stroke="#fff" stroke-width="0.8" style="font-kerning:none" font-size="46" letter-spacing="0.000">2</text><text x="-375.60" y="0.00" font-family="Liberation Sans, Arial, sans-serif" stroke="#fff" stroke-width="0.8" style="font-kerning:none" font-size="66" letter-spacing="-1.289">/g</text></g></svg>
</body></html>
